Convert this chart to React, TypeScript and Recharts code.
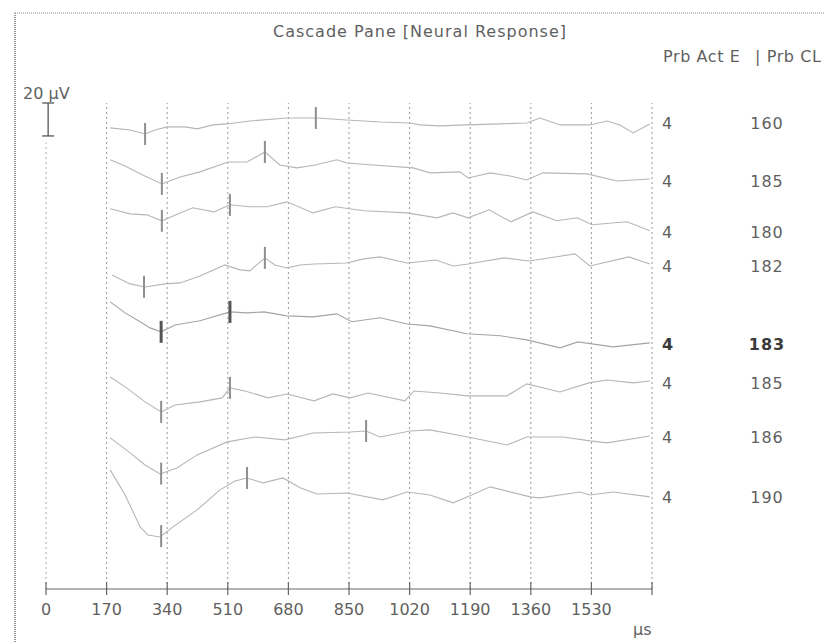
import { ComposedChart, Line, Scatter, XAxis, YAxis, ReferenceLine } from "recharts"

// time axis (µs)
const timeTicks = [0, 170, 340, 510, 680, 850, 1020, 1190, 1360, 1530, 1700]
const yMax = 295 // µV range shown
const scaleBarUV = 20

// right-hand columns
const actE = ["4", "4", "4", "4", "4", "4", "4", "4"]
const probeCL = ["160", "185", "180", "182", "183", "185", "186", "190"]
const boldRow = 4

// cascade baseline of every trace (µV)
const baselines = [282.9, 247.7, 216.8, 196.1, 148.8, 125.1, 92.3, 55.9]

// traces: [time µs, amplitude µV relative to baseline]
const trace160 = [[180, -3.0], [236, -4.3], [278, -6.7], [306, -4.3], [339, -2.4], [390, -2.4], [424, -3.6], [468, -1.2], [508, -0.6], [572, 1.2], [676, 3.0], [760, 3.0], [844, 1.8], [937, 0.6], [1021, 0], [1049, -1.2], [1105, -1.8], [1181, -1.2], [1274, -0.6], [1349, 0], [1386, 3.0], [1442, -1.2], [1526, -1.2], [1574, 1.2], [1610, -1.2], [1647, -6.1], [1694, -0.6]]
const trace185a = [[180, 12.8], [222, 9.1], [264, 4.3], [325, -1.8], [376, 2.4], [432, 5.5], [511, 11.5], [564, 11.5], [614, 17.6], [656, 9.7], [704, 7.9], [755, 9.7], [816, 12.8], [844, 10.9], [917, 9.7], [1030, 7.9], [1077, 4.9], [1161, 5.5], [1184, 1.8], [1246, 4.9], [1302, 3.0], [1349, 0.6], [1394, 4.9], [1518, 4.3], [1602, 0], [1694, 1.2]]
const trace180 = [[180, 14.0], [236, 10.9], [283, 10.3], [325, 6.7], [376, 11.5], [412, 14.6], [471, 12.1], [516, 16.4], [572, 15.2], [620, 15.2], [676, 18.2], [749, 11.5], [811, 15.2], [892, 12.8], [1013, 11.5], [1097, 8.5], [1142, 11.5], [1184, 8.5], [1243, 13.4], [1304, 6.1], [1366, 12.1], [1433, 6.7], [1490, 8.5], [1532, 4.3], [1630, 6.1], [1694, 0.6]]
const trace182 = [[185, -5.5], [236, -10.9], [278, -12.8], [334, -10.9], [376, -10.3], [432, -6.1], [502, 0.6], [544, -2.4], [572, -3.0], [614, 4.9], [642, 0.6], [676, -1.2], [713, 0.6], [752, 1.2], [842, 1.8], [892, 4.3], [937, 5.5], [1013, 1.8], [1094, 3.6], [1142, 0], [1184, 1.2], [1285, 4.9], [1355, 3.0], [1484, 7.3], [1526, 0], [1635, 5.5], [1694, 1.2]]
const trace183 = [[180, 25.5], [222, 18.8], [264, 13.4], [292, 9.7], [323, 7.3], [362, 11.5], [432, 14.0], [516, 19.4], [564, 18.8], [612, 19.4], [676, 17.0], [749, 16.4], [816, 18.2], [858, 13.4], [937, 15.8], [1013, 12.1], [1077, 10.9], [1181, 6.1], [1274, 4.9], [1349, 2.4], [1442, -2.4], [1492, 1.2], [1591, -1.8], [1694, 0.6]]
const trace185b = [[180, 3.6], [222, -2.4], [278, -11.5], [323, -17.6], [362, -13.4], [432, -11.5], [494, -9.1], [516, -3.0], [558, -4.9], [623, -9.1], [676, -6.7], [752, -10.9], [805, -6.7], [853, -9.1], [903, -6.1], [1007, -10.9], [1032, -4.9], [1105, -6.1], [1184, -7.9], [1293, -7.9], [1349, -0.6], [1442, -5.5], [1523, 0], [1574, 1.8], [1647, 0], [1694, 1.2]]
const trace186 = [[180, -0.6], [236, -9.7], [278, -17.0], [320, -22.5], [367, -18.8], [424, -10.9], [508, -3.0], [586, 0], [670, -1.8], [749, 2.4], [853, 3.0], [898, 3.6], [937, 0], [1021, 3.6], [1077, 4.3], [1184, 0], [1293, -4.9], [1349, 0], [1450, 0], [1526, -2.4], [1574, -3.6], [1694, 0.6]]
const trace190 = [[180, 16.4], [222, 1.2], [264, -18.2], [286, -23.1], [320, -24.3], [356, -18.2], [424, -7.9], [488, 4.3], [530, 9.7], [564, 11.5], [609, 8.5], [665, 11.5], [713, 5.5], [760, 1.8], [844, 2.4], [945, -1.8], [1013, 3.0], [1077, 1.2], [1142, -3.6], [1181, 0], [1246, 6.1], [1358, 0], [1386, -0.6], [1498, 3.0], [1526, 1.2], [1591, 3.0], [1694, 0]]

// latency markers (µs) per trace
const markerTimes = [[278, 757], [325, 614], [325, 516], [275, 614], [323, 516], [323, 516], [323, 898], [323, 564]]

const traces = [trace160, trace185a, trace180, trace182, trace183, trace185b, trace186, trace190]

const lineData = traces.map((pts, i) => pts.map(([t, v]) => ({ t, v: baselines[i] + v })))

function valueAt(pts: { t: number; v: number }[], t: number) {
    for (let k = 0; k < pts.length - 1; k++) {
        const a = pts[k], b = pts[k + 1]
        if (t >= a.t && t <= b.t) return a.v + (b.v - a.v) * (t - a.t) / (b.t - a.t)
    }
    return pts[pts.length - 1].v
}

const markerData = markerTimes.flatMap((times, i) =>
    times.map((t) => ({ t, v: valueAt(lineData[i], t), bold: i === boldRow }))
)

const textColor = "#5f5f5f"
const font = "'DejaVu Sans', sans-serif"

const TimeTick = (props: any) => {
    const { x, y, payload } = props
    return (
        <g>
            <line x1={x} y1={y - 7} x2={x} y2={y + 6} stroke="#666" strokeWidth={1.2} />
            {payload.value !== 1700 && (
                <text x={x} y={y + 26} textAnchor="middle" fontSize={16} fill={textColor} fontFamily={font}>
                    {payload.value}
                </text>
            )}
        </g>
    )
}

const RowTick = (props: any) => {
    const { x, y, payload } = props
    const i = baselines.indexOf(payload.value)
    const bold = i === boldRow
    return (
        <g fontFamily={font} fontSize={16} fill={bold ? "#3a3a3a" : textColor} fontWeight={bold ? "bold" : "normal"}>
            <text x={x + 10} y={y + 6}>{actE[i]}</text>
            <text x={x + 115} y={y + 6} textAnchor="middle" letterSpacing={1}>{probeCL[i]}</text>
        </g>
    )
}

const MarkerShape = (props: any) => {
    const { cx, cy, payload } = props
    return (
        <line x1={cx} y1={cy - 11} x2={cx} y2={cy + 11}
            stroke={payload.bold ? "#555" : "#8e8e8e"} strokeWidth={payload.bold ? 3 : 2} />
    )
}

const ScaleBar = (props: any) => {
    const { x1, y1, x2, y2 } = props
    return (
        <g stroke="#555" strokeWidth={1.3}>
            <line x1={x1} y1={y1} x2={x2} y2={y2} />
            <line x1={x1 - 6} y1={y1} x2={x1 + 6} y2={y1} />
            <line x1={x2 - 6} y1={y2} x2={x2 + 6} y2={y2} />
        </g>
    )
}

export default function App() {
    return (
        <div style={{ position: "absolute", left: 0, top: 0, width: 825, height: 642, background: "#fff", overflow: "hidden" }}>
            <svg width={825} height={642} style={{ position: "absolute", left: 0, top: 0 }} fontFamily={font}>
                <line x1={15} y1={13} x2={825} y2={13} stroke="#888" strokeDasharray="1 1" />
                <line x1={15} y1={13} x2={15} y2={642} stroke="#999" strokeDasharray="1 1" strokeWidth={2} />
                <text x={420} y={37} textAnchor="middle" fontSize={16} fill={textColor} letterSpacing={1}>
                    Cascade Pane [Neural Response]
                </text>
                <text x={663} y={62} fontSize={16} fill={textColor} letterSpacing={0.6}>Prb Act E</text>
                <text x={755} y={62} fontSize={16} fill={textColor} letterSpacing={0.6}>| Prb CL</text>
                <text x={23} y={99} fontSize={16} fill={textColor}>20 µV</text>
                <text x={633} y={635} fontSize={16} fill={textColor}>µs</text>
            </svg>
            <div style={{ position: "absolute", left: 0, top: 0 }}>
                <ComposedChart width={825} height={642} margin={{ top: 103, right: 13, bottom: 13, left: 46 }}>
                    <XAxis dataKey="t" type="number" domain={[0, 1700]} ticks={timeTicks} interval={0}
                        height={40} tickSize={0} tickMargin={0} tickLine={false}
                        axisLine={{ stroke: "#666", strokeWidth: 1.2 }} tick={<TimeTick />} allowDataOverflow />
                    <YAxis type="number" orientation="right" domain={[0, yMax]} ticks={baselines} interval={0}
                        width={160} tickSize={0} tickMargin={0} tickLine={false} axisLine={false} tick={<RowTick />} />
                    {timeTicks.slice(1).map((t) => (
                        <ReferenceLine key={t} x={t} stroke="#999" strokeDasharray="2 3" />
                    ))}
                    <ReferenceLine segment={[{ x: 0, y: 0 }, { x: 0, y: 271 }]} stroke="#aaa" strokeDasharray="2 3" />
                    <ReferenceLine segment={[{ x: 6, y: yMax - scaleBarUV }, { x: 6, y: yMax }]} ifOverflow="visible"
                        shape={<ScaleBar />} />
                    {lineData.map((d, i) => (
                        <Line key={i} data={d} dataKey="v" type="linear" dot={false} activeDot={false}
                            stroke={i === boldRow ? "#a4a4a4" : "#b6b6b6"} strokeWidth={1.1} isAnimationActive={false} />
                    ))}
                    <Scatter data={markerData} dataKey="v" shape={<MarkerShape />} isAnimationActive={false} />
                </ComposedChart>
            </div>
        </div>
    )
}
